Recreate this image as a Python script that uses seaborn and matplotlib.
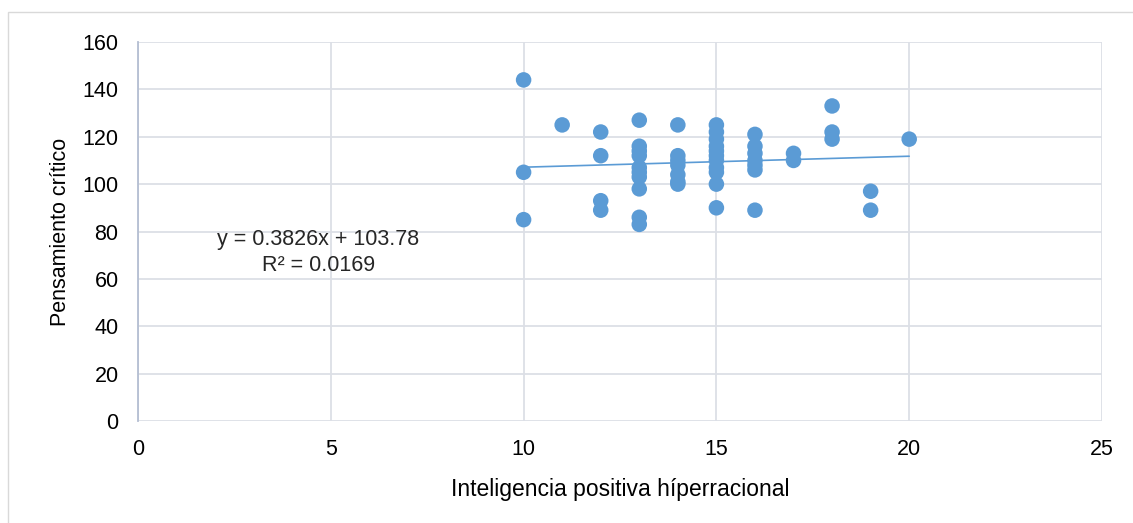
import matplotlib
matplotlib.use("Agg")
import matplotlib.pyplot as plt
import matplotlib.patches as mpatches
import seaborn as sns
import numpy as np
import pandas as pd

# Data
x_values = [10, 10, 10,
            11,
            12, 12, 12, 12,
            13, 13, 13, 13, 13, 13, 13, 13, 13, 13,
            14, 14, 14, 14, 14, 14, 14,
            15, 15, 15, 15, 15, 15, 15, 15, 15, 15, 15,
            16, 16, 16, 16, 16, 16, 16,
            17, 17,
            18, 18, 18,
            19, 19,
            20]
y_values = [144, 105, 85,
            125,
            122, 112, 93, 89,
            127, 116, 114, 112, 107, 105, 103, 98, 86, 83,
            125, 112, 110, 108, 104, 101, 100,
            125, 122, 119, 116, 114, 112, 110, 107, 105, 100, 90,
            121, 116, 113, 110, 108, 106, 89,
            113, 110,
            133, 122, 119,
            97, 89,
            119]
equation_text = "y = 0.3826x + 103.78"
r2_text = "R² = 0.0169"
x_label = "Inteligencia positiva híperracional"
y_label = "Pensamiento crítico"
x_ticks = [0, 5, 10, 15, 20, 25]
y_ticks = [0, 20, 40, 60, 80, 100, 120, 140, 160]

df = pd.DataFrame({"x": x_values, "y": y_values})

sns.set_theme(style="white")
plt.rcParams["font.family"] = ["Liberation Sans", "DejaVu Sans"]

W, H = 1133, 523
fig = plt.figure(figsize=(W / 100, H / 100), dpi=100)
ax = fig.add_axes([138 / W, 1 - 421 / H, (1102 - 138) / W, (421 - 42) / H])

blue = "#5B9BD5"
sns.scatterplot(data=df, x="x", y="y", ax=ax, color=blue, s=125,
                edgecolor="none", alpha=1, zorder=3)
sns.regplot(data=df, x="x", y="y", ax=ax, scatter=False, ci=None,
            truncate=True, line_kws={"color": blue, "lw": 1.2, "zorder": 2})

ax.set_xlim(0, 25)
ax.set_ylim(0, 160)
ax.set_xticks(x_ticks)
ax.set_yticks(y_ticks)
ax.grid(True, color="#DCDFE6", lw=1.3, zorder=0)
ax.set_axisbelow(True)
for s in ["top", "right", "bottom"]:
    ax.spines[s].set_visible(False)
ax.spines["left"].set_color("#B4BED2")
ax.spines["left"].set_linewidth(1.3)
ax.tick_params(axis="both", length=0, labelsize=15.5, colors="black")
ax.tick_params(axis="x", pad=13)
ax.tick_params(axis="y", pad=14)
ax.set_xlabel(x_label, fontsize=16.5, color="black", labelpad=13)
ax.set_ylabel(y_label, fontsize=15.5, color="black", labelpad=8)

ax.text(4.67, 76.5, equation_text, fontsize=15.5, ha="center", va="center")
ax.text(4.67, 65.5, r2_text, fontsize=15.5, ha="center", va="center")

# outer chart border
rect = mpatches.Rectangle((8 / W, -0.1), 1.2, 1 - 12 / H + 0.1,
                          transform=fig.transFigure, fill=False,
                          edgecolor="#D9D9D9", lw=1.0)
fig.patches.append(rect)

fig.savefig("out.png", dpi=100)
